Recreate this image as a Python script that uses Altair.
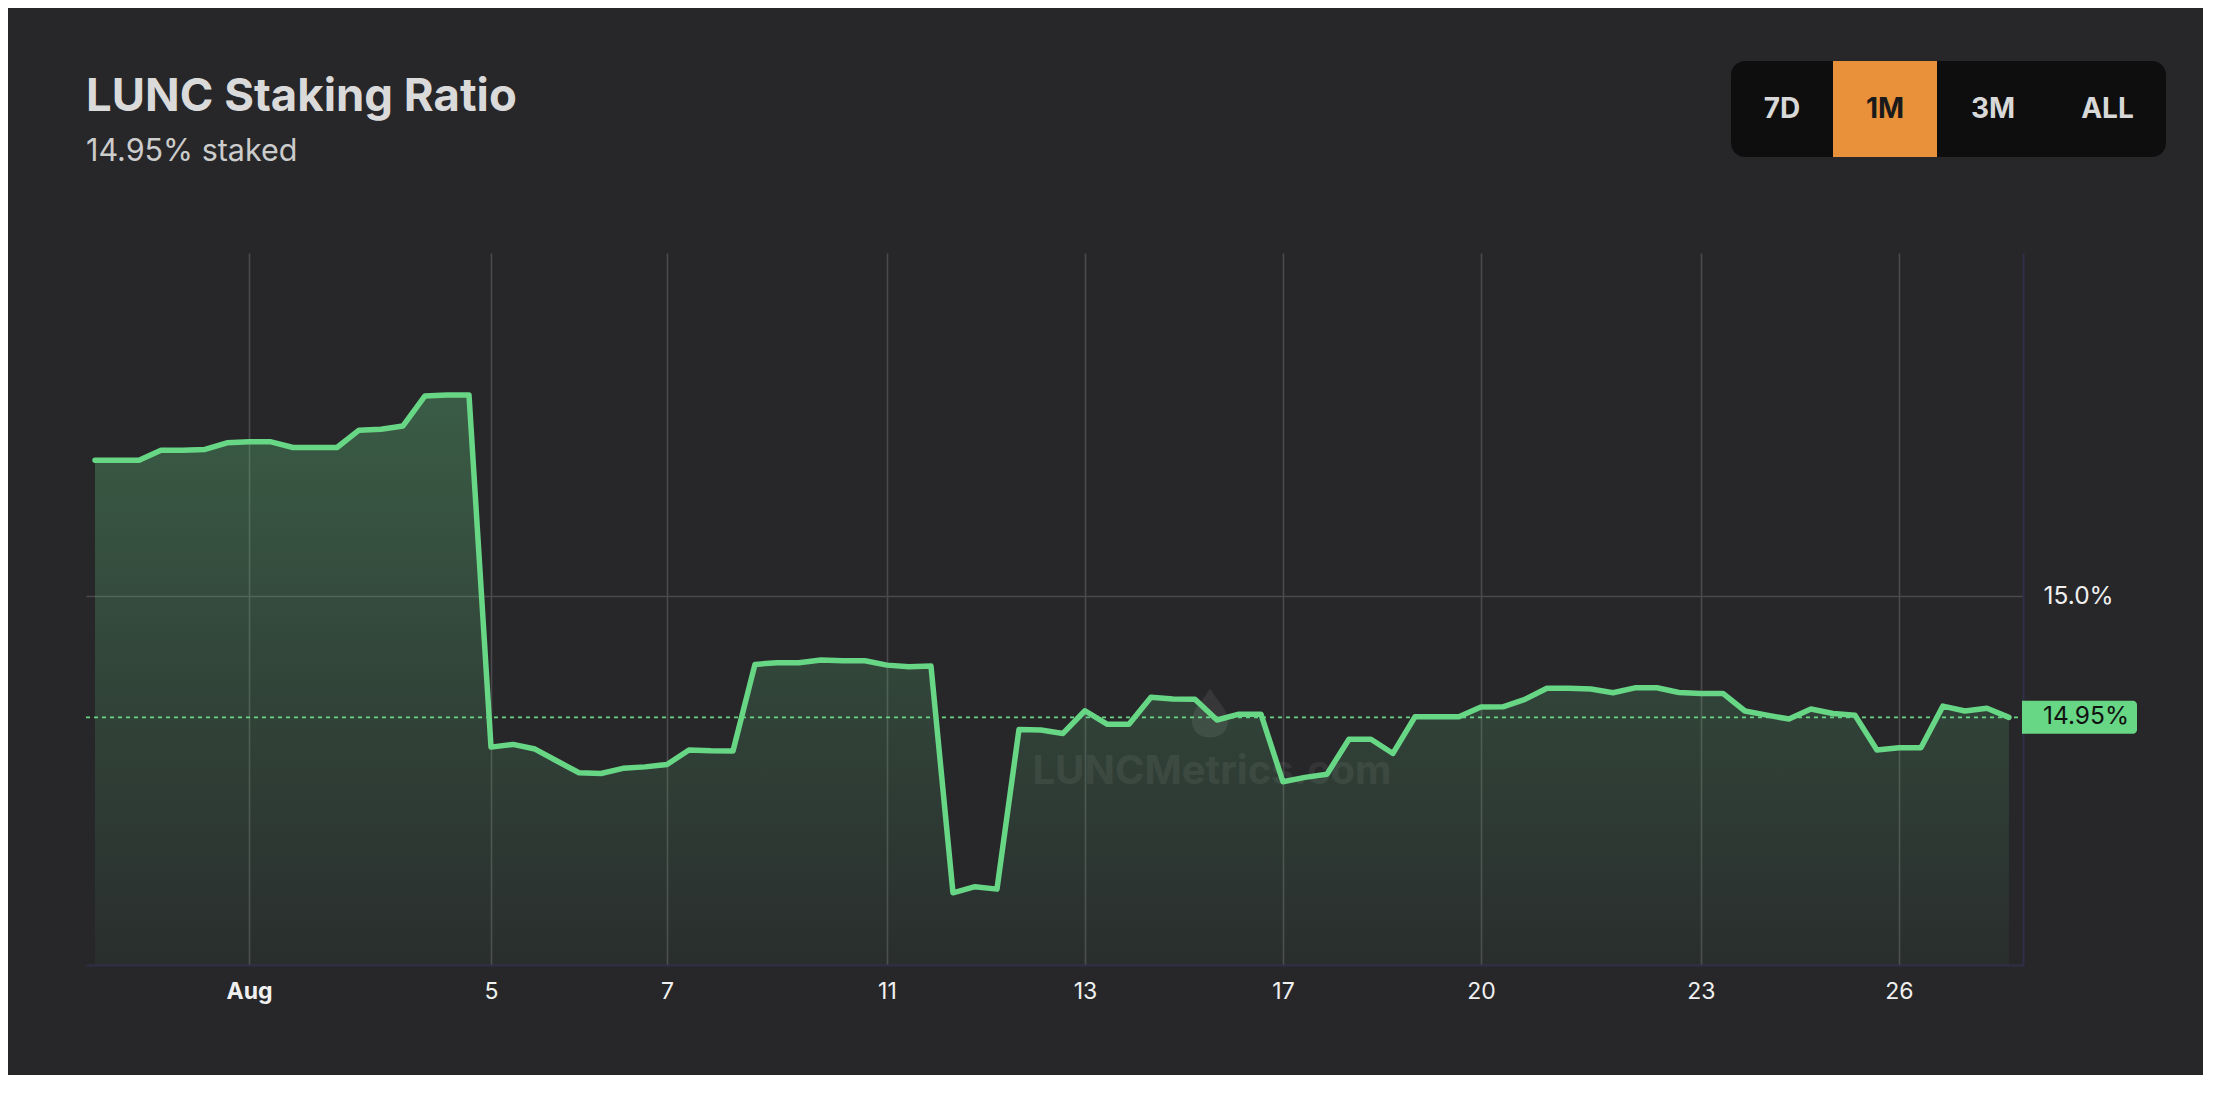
import altair as alt
import pandas as pd

# ---------------- data ----------------
title_text = "LUNC Staking Ratio"
subtitle_text = "14.95% staked"

ratio = [
    15.0557, 15.0557, 15.0557, 15.0598, 15.0598, 15.0601, 15.0628, 15.0632, 15.0632, 15.0609,
    15.0609, 15.0609, 15.0680, 15.0684, 15.0697, 15.0820, 15.0824, 15.0824, 14.9381, 14.9392,
    14.9373, 14.9324, 14.9276, 14.9273, 14.9294, 14.9300, 14.9310, 14.9369, 14.9366, 14.9365,
    14.9720, 14.9727, 14.9727, 14.9738, 14.9735, 14.9735, 14.9717, 14.9710, 14.9713, 14.8784,
    14.8809, 14.8799, 14.9453, 14.9451, 14.9437, 14.9530, 14.9475, 14.9475, 14.9585, 14.9578,
    14.9577, 14.9492, 14.9516, 14.9516, 14.9239, 14.9257, 14.9270, 14.9413, 14.9413, 14.9355,
    14.9505, 14.9505, 14.9505, 14.9545, 14.9546, 14.9577, 14.9622, 14.9622, 14.9619, 14.9604,
    14.9624, 14.9624, 14.9605, 14.9601, 14.9601, 14.9529, 14.9512, 14.9496, 14.9537, 14.9519,
    14.9512, 14.9369, 14.9378, 14.9378, 14.9549, 14.9529, 14.9540, 14.9503,
]
tick_index = [7, 18, 26, 36, 45, 54, 63, 73, 82]
tick_labels = ["Aug", "5", "7", "11", "13", "17", "20", "23", "26"]
y_ticks = [15.0]
last_label = "14.95%"
range_buttons = ["7D", "1M", "3M", "ALL"]
active_button = "1M"
watermark = "LUNCMetrics.com"

# ---------------- styling ----------------
W, H = 1937, 712
BG = "#27272a"
GREEN = "#67d685"
FONT = "Inter"
x_domain = [-0.41, 87.64]
y_domain = [14.8488, 15.1406]

df = pd.DataFrame({"i": list(range(len(ratio))), "v": ratio})
df["floor"] = y_domain[0]
last_df = pd.DataFrame({"v": [ratio[-1]], "t": [last_label]})

label_expr = "[" + ",".join("'" + s + "'" for s in tick_labels) + "][indexof([" + \
    ",".join(str(t) for t in tick_index) + "], datum.value)]"

x_enc = alt.X(
    "i:Q",
    scale=alt.Scale(domain=x_domain, nice=False, zero=False),
    axis=alt.Axis(
        values=tick_index, labelExpr=label_expr, title=None, ticks=False,
        labelPadding=15, labelFontSize=23, labelColor="#f0f0f0", labelFont=FONT,
        labelFontWeight={"condition": {"test": f"datum.value == {tick_index[0]}", "value": "bold"}, "value": "normal"},
        grid=True, gridColor="#4a4a4c", gridWidth=1.6,
        domain=True, domainColor="#2e2f47", domainWidth=2,
    ),
)
y_scale = alt.Scale(domain=y_domain, nice=False, zero=False)
y_enc = alt.Y(
    "v:Q",
    scale=y_scale,
    axis=alt.Axis(
        orient="right", values=y_ticks, labelExpr="format(datum.value, '.1f') + '%'",
        title=None, ticks=False, labelPadding=20, labelFontSize=24.5, labelColor="#f0f0f0",
        labelFont=FONT, grid=True, gridColor="#4a4a4c", gridWidth=1.6,
        domain=True, domainColor="#2e2f47", domainWidth=2,
    ),
)

base = alt.Chart(df)

area = base.mark_area(
    fill=alt.Gradient(
        gradient="linear",
        stops=[
            alt.GradientStop(color="rgba(102,214,132,0.30)", offset=0),
            alt.GradientStop(color="rgba(102,214,132,0.04)", offset=1),
        ],
        x1=1, x2=1, y1=0, y2=1,
    ),
).encode(x=x_enc, y=y_enc, y2="floor:Q")

line = base.mark_line(color=GREEN, strokeWidth=5.5, strokeJoin="round", strokeCap="round").encode(
    x=alt.X("i:Q"), y=alt.Y("v:Q")
)

wm_text = alt.Chart(pd.DataFrame({"t": [watermark]})).mark_text(
    font=FONT, fontSize=40, fontWeight="bold", color="#ffffff", opacity=0.06,
    align="center", baseline="middle",
).encode(text="t:N", x=alt.value(1126), y=alt.value(519))

wm_logo = alt.Chart(pd.DataFrame({"t": [watermark]})).mark_point(
    shape="M0,-1.4 C0.5,-0.6 1,-0.2 1,0.4 C1,1 0.5,1.3 0,1.3 C-0.5,1.3 -1,1 -1,0.4 C-1,-0.2 -0.5,-0.6 0,-1.4 Z",
    size=1300, filled=True, color="#ffffff", opacity=0.08, strokeWidth=0,
).encode(x=alt.value(1124), y=alt.value(461))

price_line = alt.Chart(last_df).mark_rule(color=GREEN, strokeWidth=1.6, strokeDash=[4, 4]).encode(
    y=alt.Y("v:Q", scale=y_scale), x=alt.value(0), x2=alt.value(W)
)
price_box = alt.Chart(last_df).mark_rect(
    color=GREEN, yOffset=-16.5, y2Offset=16.5, cornerRadiusTopRight=4, cornerRadiusBottomRight=4
).encode(y=alt.Y("v:Q", scale=y_scale), y2="v:Q", x=alt.value(W - 1), x2=alt.value(W + 114))
price_text = alt.Chart(last_df).mark_text(
    font=FONT, fontSize=24.5, color="#111111", align="left", baseline="middle"
).encode(y=alt.Y("v:Q", scale=y_scale), text="t:N", x=alt.value(W + 20))

title = alt.Chart(pd.DataFrame({"t": [title_text]})).mark_text(
    font=FONT, fontSize=45.5, fontWeight="bold", color="#dadada", align="left", baseline="alphabetic"
).encode(text="t:N", x=alt.value(0), y=alt.value(-142))
subtitle = alt.Chart(pd.DataFrame({"t": [subtitle_text]})).mark_text(
    font=FONT, fontSize=30.5, color="#cccccc", align="left", baseline="alphabetic"
).encode(text="t:N", x=alt.value(0), y=alt.value(-92))

# range selector buttons
btn_edges = [1645, 1747, 1851, 1963, 2080]
btn_top, btn_bot = -192, -96
btn_layers = [
    alt.Chart(pd.DataFrame({"t": ["box"]})).mark_rect(color="#0e0e0e", cornerRadius=14).encode(
        x=alt.value(btn_edges[0]), x2=alt.value(btn_edges[-1]), y=alt.value(btn_top), y2=alt.value(btn_bot)
    )
]
for k, lab in enumerate(range_buttons):
    active = lab == active_button
    if active:
        btn_layers.append(
            alt.Chart(pd.DataFrame({"t": [lab]})).mark_rect(color="#e8913a").encode(
                x=alt.value(btn_edges[k]), x2=alt.value(btn_edges[k + 1]),
                y=alt.value(btn_top), y2=alt.value(btn_bot)
            )
        )
    btn_layers.append(
        alt.Chart(pd.DataFrame({"t": [lab]})).mark_text(
            font=FONT, fontSize=28, fontWeight="bold",
            color="#1a1a1a" if active else "#d8d8d8", align="center", baseline="middle"
        ).encode(text="t:N", x=alt.value((btn_edges[k] + btn_edges[k + 1]) / 2), y=alt.value(-143))
    )

chart = alt.layer(
    area, wm_text, wm_logo, line, price_line, price_box, price_text, title, subtitle, *btn_layers
).properties(
    width=W, height=H, background=BG,
    autosize=alt.AutoSizeParams(type="none"),
    padding={"left": 78, "top": 245, "right": 180, "bottom": 110},
).configure_view(stroke=None)

chart.save("out.html", embed_options={"renderer": "svg", "actions": False})
